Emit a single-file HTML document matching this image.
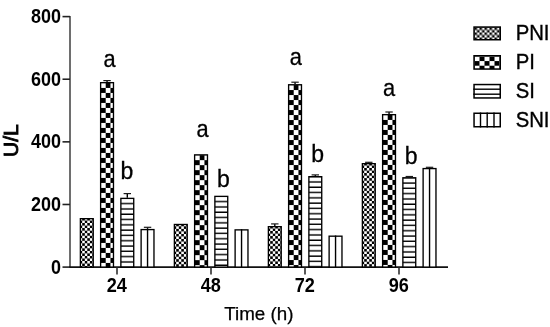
<!DOCTYPE html>
<html><head><meta charset="utf-8"><title>Chart</title>
<style>html,body{margin:0;padding:0;background:#fff;}svg{display:block;filter:blur(0.35px);}text{font-family:"Liberation Sans",Arial,sans-serif;fill:#000;}.tk{font-weight:bold;font-size:18.6px;}.lt{font-size:23px;stroke:#000;stroke-width:0.3px;}.lg{font-size:20.5px;stroke:#000;stroke-width:0.35px;}</style></head><body>
<svg width="550" height="327" viewBox="0 0 550 327">
<defs>
<pattern id="p00" patternUnits="userSpaceOnUse" x="79.70" y="218.00" width="5.060" height="5.060"><rect width="5.060" height="5.060" fill="#fff"/><rect x="2.530" y="0" width="2.530" height="2.530" fill="#000"/><rect x="0" y="2.530" width="2.530" height="2.530" fill="#000"/></pattern>
<pattern id="p01" patternUnits="userSpaceOnUse" x="100.95" y="82.95" width="9.500" height="10.000"><rect width="9.500" height="10.000" fill="#fff"/><rect x="4.750" y="0" width="4.750" height="5.000" fill="#000"/><rect x="0" y="5.000" width="4.750" height="5.000" fill="#000"/></pattern>
<pattern id="p02" patternUnits="userSpaceOnUse" x="121.55" y="199.05" width="20" height="5.300"><rect width="20" height="5.300" fill="#fff"/><rect x="0" y="3.900" width="20" height="1.400" fill="#000"/></pattern>
<pattern id="p10" patternUnits="userSpaceOnUse" x="173.70" y="223.80" width="5.060" height="5.060"><rect width="5.060" height="5.060" fill="#fff"/><rect x="2.530" y="0" width="2.530" height="2.530" fill="#000"/><rect x="0" y="2.530" width="2.530" height="2.530" fill="#000"/></pattern>
<pattern id="p11" patternUnits="userSpaceOnUse" x="194.95" y="155.15" width="9.500" height="10.000"><rect width="9.500" height="10.000" fill="#fff"/><rect x="4.750" y="0" width="4.750" height="5.000" fill="#000"/><rect x="0" y="5.000" width="4.750" height="5.000" fill="#000"/></pattern>
<pattern id="p12" patternUnits="userSpaceOnUse" x="215.55" y="197.05" width="20" height="5.300"><rect width="20" height="5.300" fill="#fff"/><rect x="0" y="3.900" width="20" height="1.400" fill="#000"/></pattern>
<pattern id="p20" patternUnits="userSpaceOnUse" x="267.70" y="226.00" width="5.060" height="5.060"><rect width="5.060" height="5.060" fill="#fff"/><rect x="2.530" y="0" width="2.530" height="2.530" fill="#000"/><rect x="0" y="2.530" width="2.530" height="2.530" fill="#000"/></pattern>
<pattern id="p21" patternUnits="userSpaceOnUse" x="288.95" y="85.05" width="9.500" height="10.000"><rect width="9.500" height="10.000" fill="#fff"/><rect x="4.750" y="0" width="4.750" height="5.000" fill="#000"/><rect x="0" y="5.000" width="4.750" height="5.000" fill="#000"/></pattern>
<pattern id="p22" patternUnits="userSpaceOnUse" x="309.55" y="177.35" width="20" height="5.300"><rect width="20" height="5.300" fill="#fff"/><rect x="0" y="3.900" width="20" height="1.400" fill="#000"/></pattern>
<pattern id="p30" patternUnits="userSpaceOnUse" x="361.70" y="163.00" width="5.060" height="5.060"><rect width="5.060" height="5.060" fill="#fff"/><rect x="2.530" y="0" width="2.530" height="2.530" fill="#000"/><rect x="0" y="2.530" width="2.530" height="2.530" fill="#000"/></pattern>
<pattern id="p31" patternUnits="userSpaceOnUse" x="382.95" y="114.95" width="9.500" height="10.000"><rect width="9.500" height="10.000" fill="#fff"/><rect x="4.750" y="0" width="4.750" height="5.000" fill="#000"/><rect x="0" y="5.000" width="4.750" height="5.000" fill="#000"/></pattern>
<pattern id="p32" patternUnits="userSpaceOnUse" x="403.55" y="178.45" width="20" height="5.300"><rect width="20" height="5.300" fill="#fff"/><rect x="0" y="3.900" width="20" height="1.400" fill="#000"/></pattern>
<pattern id="lg0" patternUnits="userSpaceOnUse" x="474.50" y="27.50" width="5.000" height="5.000"><rect width="5.000" height="5.000" fill="#000"/><rect x="2.500" y="0" width="2.500" height="2.500" fill="#fff"/><rect x="0" y="2.500" width="2.500" height="2.500" fill="#fff"/></pattern>
<pattern id="lg1" patternUnits="userSpaceOnUse" x="474.50" y="56.50" width="10.000" height="9.200"><rect width="10.000" height="9.200" fill="#fff"/><rect x="5.000" y="0" width="5.000" height="4.600" fill="#000"/><rect x="0" y="4.600" width="5.000" height="4.600" fill="#000"/></pattern>
</defs>
<line x1="70.0" y1="16.1" x2="70.0" y2="267.85" stroke="#6e6e6e" stroke-width="2"/>
<line x1="69.0" y1="267.1" x2="448.0" y2="267.1" stroke="#111" stroke-width="1.6"/>
<line x1="62.5" y1="267.10" x2="70.0" y2="267.10" stroke="#222" stroke-width="1.6"/>
<text class="tk" text-anchor="end" transform="translate(61.10,273.50) scale(0.967,1.07)">0</text>
<line x1="62.5" y1="204.48" x2="70.0" y2="204.48" stroke="#222" stroke-width="1.6"/>
<text class="tk" text-anchor="end" transform="translate(61.10,210.88) scale(0.967,1.07)">200</text>
<line x1="62.5" y1="141.85" x2="70.0" y2="141.85" stroke="#222" stroke-width="1.6"/>
<text class="tk" text-anchor="end" transform="translate(61.10,148.25) scale(0.967,1.07)">400</text>
<line x1="62.5" y1="79.22" x2="70.0" y2="79.22" stroke="#222" stroke-width="1.6"/>
<text class="tk" text-anchor="end" transform="translate(61.10,85.62) scale(0.967,1.07)">600</text>
<line x1="62.5" y1="16.60" x2="70.0" y2="16.60" stroke="#222" stroke-width="1.6"/>
<text class="tk" text-anchor="end" transform="translate(61.10,23.00) scale(0.967,1.07)">800</text>
<line x1="117" y1="267.1" x2="117" y2="274.5" stroke="#222" stroke-width="1.5"/>
<text class="tk" text-anchor="middle" transform="translate(116.80,292.30) scale(0.975,1.045)">24</text>
<line x1="211" y1="267.1" x2="211" y2="274.5" stroke="#222" stroke-width="1.5"/>
<text class="tk" text-anchor="middle" transform="translate(210.80,292.30) scale(0.975,1.045)">48</text>
<line x1="305" y1="267.1" x2="305" y2="274.5" stroke="#222" stroke-width="1.5"/>
<text class="tk" text-anchor="middle" transform="translate(304.80,292.30) scale(0.975,1.045)">72</text>
<line x1="399" y1="267.1" x2="399" y2="274.5" stroke="#222" stroke-width="1.5"/>
<text class="tk" text-anchor="middle" transform="translate(398.80,292.30) scale(0.975,1.045)">96</text>
<rect x="80.38" y="218.68" width="12.85" height="48.43" fill="url(#p00)" stroke="#000" stroke-width="1.35"/>
<rect x="100.62" y="82.67" width="12.85" height="184.43" fill="url(#p01)" stroke="#000" stroke-width="1.35"/>
<line x1="107.05" y1="80.60" x2="107.05" y2="82.00" stroke="#000" stroke-width="1.4"/>
<line x1="103.35" y1="80.60" x2="110.75" y2="80.60" stroke="#1a1a1a" stroke-width="1.2"/>
<rect x="120.88" y="198.38" width="12.85" height="68.73" fill="url(#p02)" stroke="#000" stroke-width="1.35"/>
<line x1="127.30" y1="193.60" x2="127.30" y2="197.70" stroke="#000" stroke-width="1.4"/>
<line x1="123.60" y1="193.60" x2="131.00" y2="193.60" stroke="#1a1a1a" stroke-width="1.2"/>
<rect x="141.12" y="229.58" width="12.85" height="37.53" fill="#fff" stroke="#000" stroke-width="1.35"/>
<line x1="147.55" y1="228.90" x2="147.55" y2="267.10" stroke="#000" stroke-width="1.4"/>
<line x1="147.55" y1="227.30" x2="147.55" y2="228.90" stroke="#000" stroke-width="1.4"/>
<line x1="143.85" y1="227.30" x2="151.25" y2="227.30" stroke="#1a1a1a" stroke-width="1.2"/>
<rect x="174.38" y="224.48" width="12.85" height="42.63" fill="url(#p10)" stroke="#000" stroke-width="1.35"/>
<rect x="194.62" y="154.88" width="12.85" height="112.23" fill="url(#p11)" stroke="#000" stroke-width="1.35"/>
<rect x="214.88" y="196.38" width="12.85" height="70.73" fill="url(#p12)" stroke="#000" stroke-width="1.35"/>
<rect x="235.12" y="229.88" width="12.85" height="37.23" fill="#fff" stroke="#000" stroke-width="1.35"/>
<line x1="241.55" y1="229.20" x2="241.55" y2="267.10" stroke="#000" stroke-width="1.4"/>
<rect x="268.38" y="226.68" width="12.85" height="40.43" fill="url(#p20)" stroke="#000" stroke-width="1.35"/>
<line x1="274.80" y1="223.90" x2="274.80" y2="226.00" stroke="#000" stroke-width="1.4"/>
<line x1="271.10" y1="223.90" x2="278.50" y2="223.90" stroke="#1a1a1a" stroke-width="1.2"/>
<rect x="288.62" y="84.77" width="12.85" height="182.33" fill="url(#p21)" stroke="#000" stroke-width="1.35"/>
<line x1="295.05" y1="82.20" x2="295.05" y2="84.10" stroke="#000" stroke-width="1.4"/>
<line x1="291.35" y1="82.20" x2="298.75" y2="82.20" stroke="#1a1a1a" stroke-width="1.2"/>
<rect x="308.88" y="176.68" width="12.85" height="90.43" fill="url(#p22)" stroke="#000" stroke-width="1.35"/>
<line x1="315.30" y1="174.90" x2="315.30" y2="176.00" stroke="#000" stroke-width="1.4"/>
<line x1="311.60" y1="174.90" x2="319.00" y2="174.90" stroke="#1a1a1a" stroke-width="1.2"/>
<rect x="329.12" y="236.18" width="12.85" height="30.93" fill="#fff" stroke="#000" stroke-width="1.35"/>
<line x1="335.55" y1="235.50" x2="335.55" y2="267.10" stroke="#000" stroke-width="1.4"/>
<rect x="362.38" y="163.68" width="12.85" height="103.43" fill="url(#p30)" stroke="#000" stroke-width="1.35"/>
<line x1="368.80" y1="162.30" x2="368.80" y2="163.00" stroke="#000" stroke-width="1.4"/>
<line x1="365.10" y1="162.30" x2="372.50" y2="162.30" stroke="#1a1a1a" stroke-width="1.2"/>
<rect x="382.62" y="114.67" width="12.85" height="152.43" fill="url(#p31)" stroke="#000" stroke-width="1.35"/>
<line x1="389.05" y1="112.00" x2="389.05" y2="114.00" stroke="#000" stroke-width="1.4"/>
<line x1="385.35" y1="112.00" x2="392.75" y2="112.00" stroke="#1a1a1a" stroke-width="1.2"/>
<rect x="402.88" y="177.78" width="12.85" height="89.33" fill="url(#p32)" stroke="#000" stroke-width="1.35"/>
<line x1="409.30" y1="176.50" x2="409.30" y2="177.10" stroke="#000" stroke-width="1.4"/>
<line x1="405.60" y1="176.50" x2="413.00" y2="176.50" stroke="#1a1a1a" stroke-width="1.2"/>
<rect x="423.12" y="168.58" width="12.85" height="98.53" fill="#fff" stroke="#000" stroke-width="1.35"/>
<line x1="429.55" y1="167.90" x2="429.55" y2="267.10" stroke="#000" stroke-width="1.4"/>
<line x1="429.55" y1="167.30" x2="429.55" y2="167.90" stroke="#000" stroke-width="1.4"/>
<line x1="425.85" y1="167.30" x2="433.25" y2="167.30" stroke="#1a1a1a" stroke-width="1.2"/>
<text class="lt" transform="translate(103.40,67.00) scale(0.95,1.0)">a</text>
<text class="lt" transform="translate(120.60,178.70) scale(1.0,1.0)">b</text>
<text class="lt" transform="translate(196.40,137.20) scale(0.95,1.0)">a</text>
<text class="lt" transform="translate(216.90,186.50) scale(1.0,1.0)">b</text>
<text class="lt" transform="translate(289.80,64.50) scale(0.95,1.0)">a</text>
<text class="lt" transform="translate(311.30,161.60) scale(1.0,1.0)">b</text>
<text class="lt" transform="translate(383.10,96.40) scale(0.95,1.0)">a</text>
<text class="lt" transform="translate(404.80,164.00) scale(1.0,1.0)">b</text>
<rect x="474.05" y="27.05" width="26.20" height="12.70" fill="url(#lg0)" stroke="#000" stroke-width="1.5"/>
<text class="lg" transform="translate(515.70,40.40) scale(0.99,1.1)">PNI</text>
<rect x="474.05" y="55.75" width="26.20" height="13.30" fill="url(#lg1)" stroke="#000" stroke-width="1.5"/>
<text class="lg" transform="translate(515.70,68.90) scale(0.99,1.1)">PI</text>
<rect x="474.05" y="84.55" width="26.20" height="13.40" fill="#fff" stroke="#000" stroke-width="1.5"/>
<line x1="473.3" y1="89.2" x2="501.0" y2="89.2" stroke="#000" stroke-width="1.4"/>
<line x1="473.3" y1="94.2" x2="501.0" y2="94.2" stroke="#000" stroke-width="1.4"/>
<text class="lg" transform="translate(515.70,97.50) scale(0.99,1.1)">SI</text>
<rect x="474.05" y="113.25" width="26.20" height="13.50" fill="#fff" stroke="#000" stroke-width="1.5"/>
<line x1="480.5" y1="112.5" x2="480.5" y2="127.5" stroke="#000" stroke-width="1.4"/>
<line x1="487.2" y1="112.5" x2="487.2" y2="127.5" stroke="#000" stroke-width="1.4"/>
<line x1="494.0" y1="112.5" x2="494.0" y2="127.5" stroke="#000" stroke-width="1.4"/>
<text class="lg" transform="translate(515.70,126.70) scale(0.99,1.1)">SNI</text>
<text style="font-size:18.8px;stroke:#000;stroke-width:0.25px" transform="translate(224.20,319.80) scale(1.0,1.0)">Time (h)</text>
<text transform="translate(18.2,157.0) rotate(-90)" style="font-size:21px;stroke:#000;stroke-width:0.9px">U/L</text>
</svg></body></html>
